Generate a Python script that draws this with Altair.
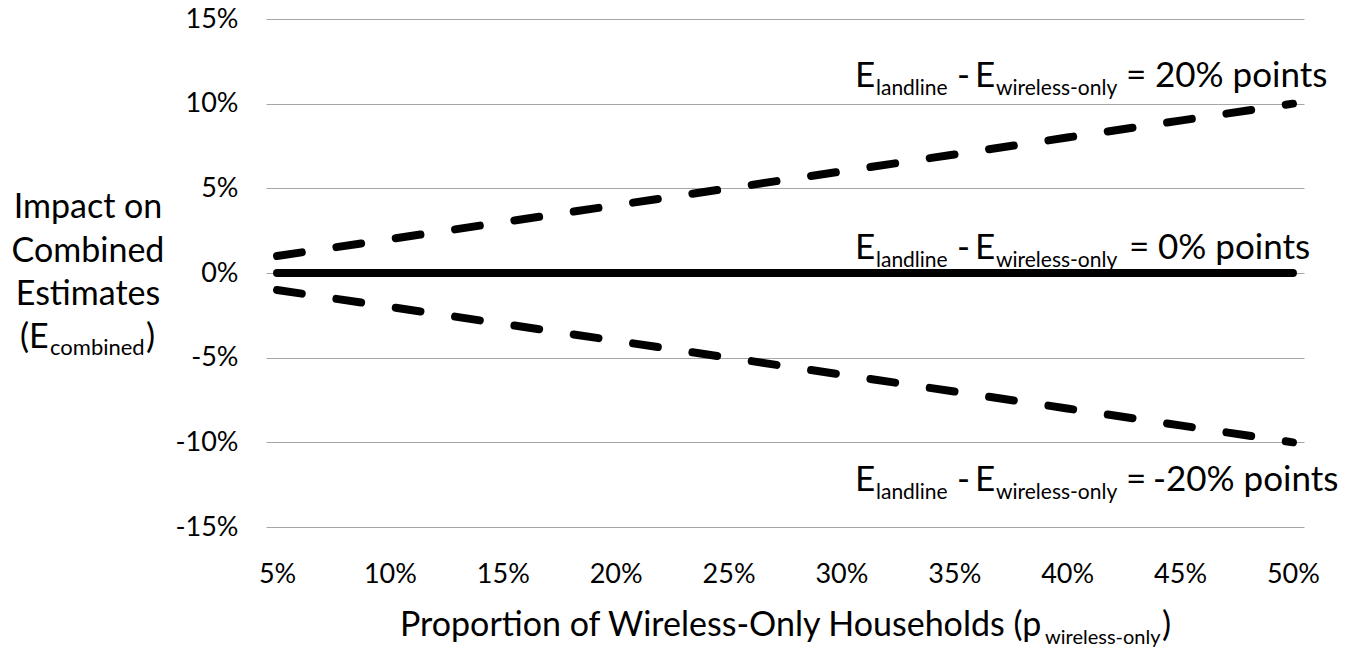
import altair as alt
import pandas as pd

# ---- data ----
p_wireless = [0.05, 0.10, 0.15, 0.20, 0.25, 0.30, 0.35, 0.40, 0.45, 0.50]
impact_plus20 = [0.01, 0.02, 0.03, 0.04, 0.05, 0.06, 0.07, 0.08, 0.09, 0.10]
impact_zero = [0.0, 0.0, 0.0, 0.0, 0.0, 0.0, 0.0, 0.0, 0.0, 0.0]
impact_minus20 = [-0.01, -0.02, -0.03, -0.04, -0.05, -0.06, -0.07, -0.08, -0.09, -0.10]
y_ticks = [-0.15, -0.10, -0.05, 0.0, 0.05, 0.10, 0.15]
x_ticks = p_wireless

rows = []
for name, vals in [("plus20", impact_plus20), ("zero", impact_zero), ("minus20", impact_minus20)]:
    for x, y in zip(p_wireless, vals):
        rows.append({"p": x, "impact": y, "series": name})
df = pd.DataFrame(rows)

FONT = "Lato"
W, H = 1038, 508
L, T = 266, 19
GRID = "#a6a6a6"
TICK = 27

x_enc = alt.X(
    "p:Q",
    scale=alt.Scale(domain=[0.0451, 0.5049], nice=False, zero=False),
    axis=alt.Axis(values=x_ticks, format=".0%", grid=False, ticks=False, domain=False,
                  title=None, labelFont=FONT, labelFontSize=TICK, labelColor="black",
                  labelPadding=34, labelFlush=False, labelOverlap=False),
)
y_enc = alt.Y(
    "impact:Q",
    scale=alt.Scale(domain=[-0.15, 0.15], nice=False, zero=False),
    axis=alt.Axis(values=y_ticks, grid=True, gridColor=GRID, gridWidth=1, ticks=False,
                  domain=False, title=None, labelFont=FONT, labelFontSize=TICK,
                  labelColor="black", labelPadding=28, labelFlush=False, labelOverlap=False,
                  labelExpr="(datum.value < -0.0001 ? '-' : '') + format(abs(datum.value), '.0%')"),
)

base = alt.Chart(df)
solid = base.transform_filter(alt.datum.series == "zero").mark_line(
    color="black", strokeWidth=8, strokeCap="round").encode(x=x_enc, y=y_enc)
dashed_up = base.transform_filter(alt.datum.series == "plus20").mark_line(
    color="black", strokeWidth=8, strokeCap="round", strokeDash=[25, 35]).encode(x=x_enc, y=y_enc)
dashed_dn = base.transform_filter(alt.datum.series == "minus20").mark_line(
    color="black", strokeWidth=8, strokeCap="round", strokeDash=[25, 35]).encode(x=x_enc, y=y_enc)

one = pd.DataFrame({"k": [0]})


def piece(s, px, py, size, align="left"):
    return alt.Chart(one).mark_text(
        font=FONT, fontSize=size, color="black", align=align, baseline="alphabetic"
    ).encode(x=alt.value(px - L), y=alt.value(py - T), text=alt.value(s))


MAIN = 35
SUB = 21
texts = []

# annotations on the right
for value_text, base_y, eq_x, val_x in [
    ("20% points", 87, 1126, 1155),
    ("0% points", 259, 1129, 1158),
    ("-20% points", 491, 1126, 1153),
]:
    sub_y = base_y + 8
    texts += [
        piece("E", 855, base_y, MAIN),
        piece("landline", 876, sub_y, SUB),
        piece("-", 957, base_y, MAIN),
        piece("E", 975, base_y, MAIN),
        piece("wireless-only", 996, sub_y, SUB),
        piece("=", eq_x, base_y, MAIN),
        piece(value_text, val_x, base_y, MAIN),
    ]

# y-axis title
YT = 34
texts += [
    piece("Impact on", 88, 218, YT, "center"),
    piece("Combined", 88, 262, YT, "center"),
    piece("Estimates", 88, 305, YT, "center"),
    piece("(E", 20, 348, YT),
    piece("combined", 50, 355, 22),
    piece(")", 146, 348, YT),
]

# x-axis title
XT = 34
texts += [
    piece("Proportion of Wireless-Only Households (p", 400, 636, XT),
    piece("wireless-only", 1045, 644, 20),
    piece(")", 1162, 636, XT),
]

chart = alt.layer(dashed_up, dashed_dn, solid, *texts).properties(
    width=W, height=H,
    autosize=alt.AutoSizeParams(type="none"),
    padding={"left": L, "top": T, "right": 1351 - L - W, "bottom": 649 - T - H},
    background="white",
).configure_view(stroke=None)

chart.save("out.html", embed_options={"renderer": "svg", "actions": False})
